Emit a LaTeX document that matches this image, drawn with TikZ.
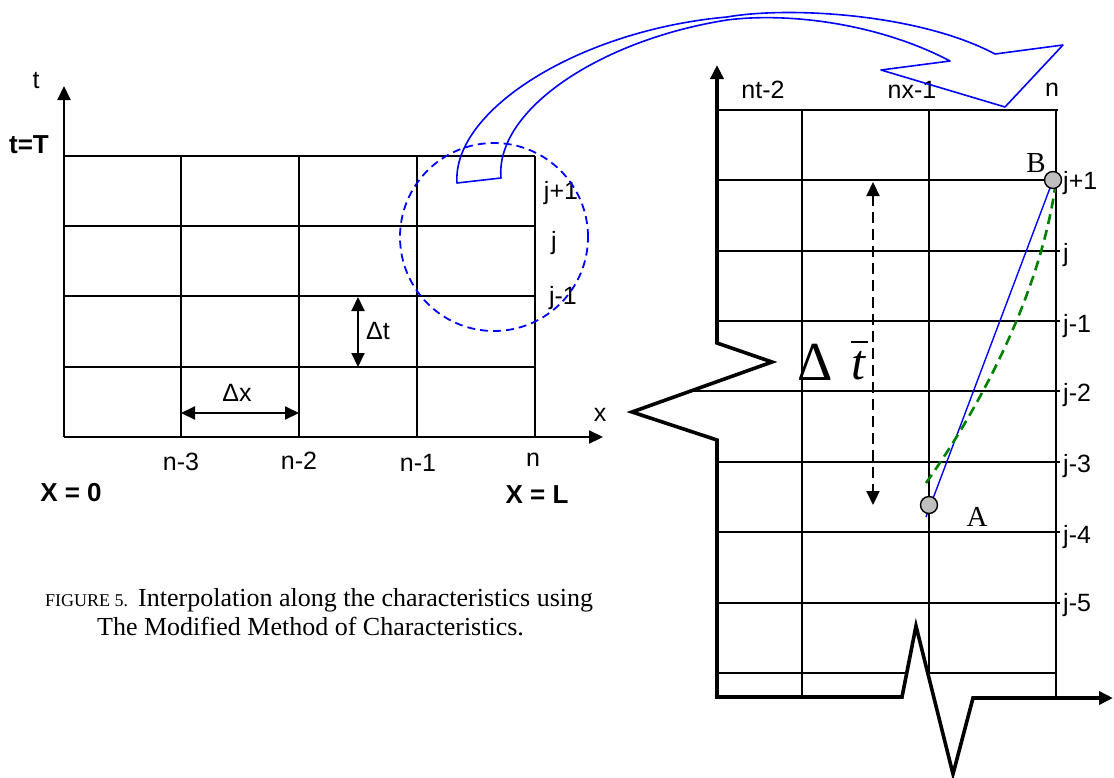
\documentclass[tikz,border=0pt]{standalone}
\usepackage{fontspec}
\setmainfont{Liberation Sans}
\newfontfamily\tnr{Liberation Serif}
\usetikzlibrary{arrows.meta}
\tikzset{
  gridline/.style={line width=2pt},
  rgridline/.style={line width=1.6pt},
  axisleft/.style={line width=2.2pt},
  axisright/.style={line width=3.6pt, line join=miter},
  tri/.tip={Triangle[length=14pt,width=13pt]},
  lab/.style={font=\fontsize{25}{29}\selectfont, inner sep=0pt},
  blab/.style={font=\bfseries\fontsize{26}{30}\selectfont, inner sep=0pt},
  serlab/.style={font=\tnr\fontsize{29}{32}\selectfont, inner sep=0pt},
  dot/.style={circle, draw=black, line width=1.4pt, fill=black!25, minimum size=17pt, inner sep=0pt},
  bluearrow/.style={draw=blue, line width=1.6pt, line join=round},
}
\begin{document}
\begin{tikzpicture}[x=1pt,y=-1pt]
\useasboundingbox (0,0) rectangle (1114,777);

% ---------------- left grid ----------------
\foreach \yy in {156,226,296,367} \draw[gridline] (64,\yy) -- (535,\yy);
\foreach \xx in {181,299,417,535} \draw[gridline] (\xx,156) -- (\xx,437);
\draw[axisleft,-tri] (64,437) -- (64,86);
\draw[axisleft,-tri] (64,437) -- (603,437);

\node[lab] (tlab) at (36,81) {t};
\node[blab] (tT) at (29,145) {t=T};
\node[lab] (xlab) at (600,415) {x};
\node[lab] (n3) at (181,462) {n-3};
\node[lab] (n2) at (299,461) {n-2};
\node[lab] (n1) at (418,463) {n-1};
\node[lab] (n0) at (533,460) {n};
\node[blab] (X0) at (71,493) {X = 0};
\node[blab] (XL) at (537,495) {X = L};
\node[lab] (jp1) at (561,193) {j+1};
\node[lab] (jj) at (554,243) {j};
\node[lab] (jm1) at (563,298) {j-1};

\coordinate (dxa) at (181,413);
\coordinate (dxb) at (299,413);
\draw[gridline,tri-tri] (dxa) -- (dxb);
\node[lab] (dxlab) at (237,393) {Δx};
\coordinate (dta) at (358,297);
\coordinate (dtb) at (358,367);
\draw[gridline,tri-tri] (dta) -- (dtb);
\node[lab] (dtlab) at (378,331) {Δt};

% dashed circle
\draw[blue, line width=1.8pt, dash pattern=on 8pt off 5pt] (494,237) circle[radius=94pt];

% caption
\node[anchor=west, inner sep=0pt, font=\tnr] (cap1) at (45,600)
  {{\fontsize{18}{20}\selectfont FIGURE 5.}\hspace{10pt}{\fontsize{26}{29}\selectfont Interpolation along the characteristics using}};
\node[anchor=west, inner sep=0pt, font=\tnr\fontsize{26}{29}\selectfont] (cap2) at (97,627)
  {The Modified Method of Characteristics.};

% ---------------- right grid ----------------
\draw[rgridline] (717,110) -- (1058,110);
\foreach \yy in {180,251,321,462,532,603} \draw[rgridline] (717,\yy) -- (1060,\yy);
\draw[rgridline] (691,391) -- (1060,391);
\draw[rgridline] (717,673) -- (1056,673);
\foreach \xx in {802,929,1056} \draw[rgridline] (\xx,110) -- (\xx,697);

% break of the bottom axis
\fill[white] (902,697) -- (916,626) -- (953,774) -- (973,698) -- cycle;
\draw[axisright,tri-tri] (717,65) -- (717,343) -- (772,362) -- (632,412) -- (717,440)
  -- (717,697) -- (902,697) -- (916,626) -- (953,774) -- (973,698) -- (1113,698);

\node[lab] (nt2) at (763,90) {nt-2};
\node[lab] (nx1) at (912,90) {nx-1};
\node[lab] (nn) at (1052,90) {n};

\foreach \nm/\yy/\tx in {r1/183/j+1, r2/255/j, r3/326/j-1, r4/395/j-2, r5/466/j-3, r6/537/j-4, r7/605/j-5}
  \node[lab, anchor=west] (\nm) at (1063,\yy) {\tx};

% delta t bar arrow
\coordinate (dbt) at (873,182);
\coordinate (dbb) at (873,505);
\draw[line width=2.2pt, dash pattern=on 11pt off 6pt, tri-tri] (dbt) -- (dbb);
\node[inner sep=0pt, font=\tnr\fontsize{55}{60}\selectfont] (Dl) at (815,362) {Δ};
\node[inner sep=0pt, font=\tnr\itshape\fontsize{50}{54}\selectfont] (tl) at (858,366) {t};
\draw[line width=1.6pt] (851,342) -- (868,342);

% characteristics
\coordinate (A) at (929,505);
\coordinate (B) at (1053,180);
\coordinate (Aend) at (926,517);
\coordinate (Gs) at (926,483);
\coordinate (Ge) at (1055,188);
\draw[blue, line width=1.4pt] (Aend) -- (B);
\draw[green!50!black, line width=2.6pt, dash pattern=on 10pt off 6pt] (Gs) .. controls (985,400) and (1040,290) .. (Ge);
\node[dot] (Adot) at (A) {};
\node[dot] (Bdot) at (B) {};
\node[serlab] (Alab) at (977,517) {A};
\node[serlab] (Blab) at (1036,163) {B};

% big curved arrow
\draw[bluearrow] (457,183) .. controls (452,110) and (580,30) .. (727,17)
  .. controls (790,6) and (920,14) .. (995,54) -- (1063,45) -- (1005,107) -- (881,70) -- (950,61)
  .. controls (880,24) and (790,12) .. (727,20)
  .. controls (600,40) and (495,110) .. (501,178) -- cycle;
\end{tikzpicture}
\end{document}
